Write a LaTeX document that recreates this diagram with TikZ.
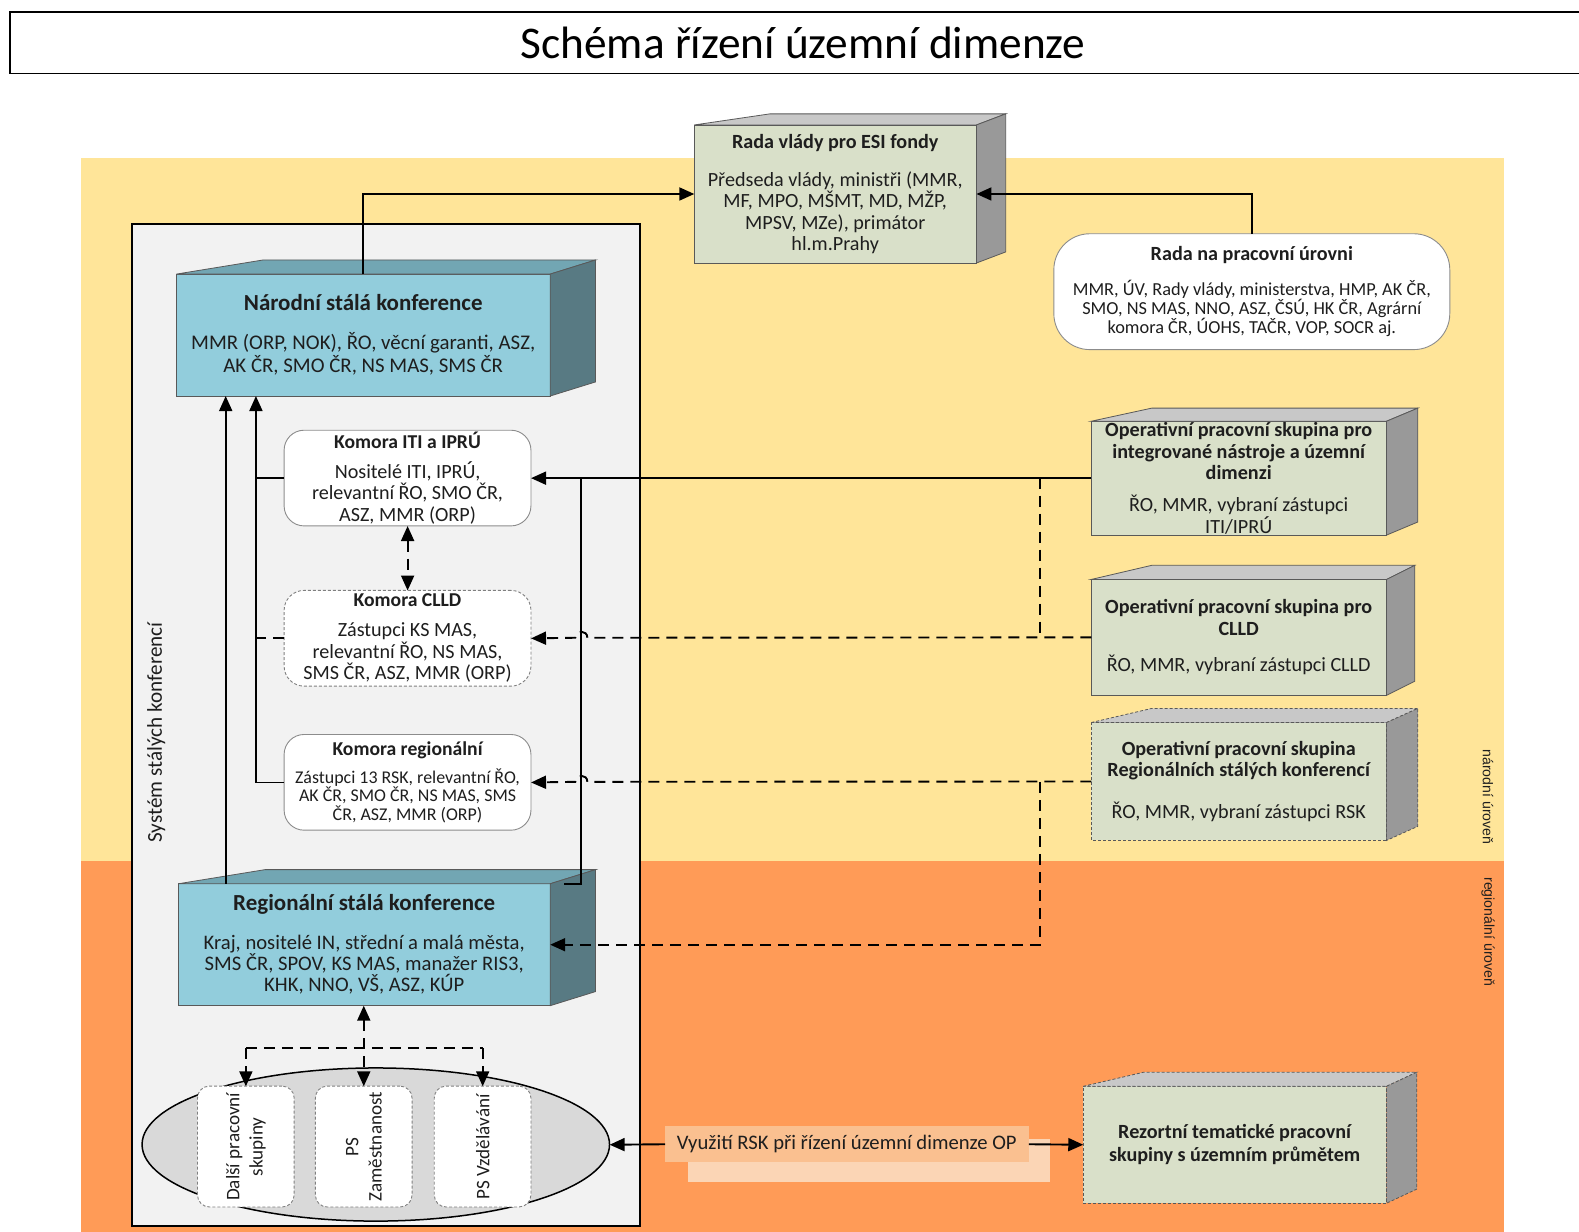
\documentclass[tikz,border=0pt]{standalone}
\usepackage{fontspec}
\setmainfont{Carlito}
\newfontfamily\arialf{Liberation Sans}
\usetikzlibrary{arrows.meta,calc,shapes.geometric}
\definecolor{bandY}{HTML}{FFE599}
\definecolor{bandO}{HTML}{FF9B57}
\definecolor{sysgrey}{HTML}{F2F2F2}
\definecolor{tealF}{HTML}{92CDDC}
\definecolor{tealT}{HTML}{72A6B3}
\definecolor{tealS}{HTML}{587A83}
\definecolor{oliveF}{HTML}{D9E0C9}
\definecolor{greyT}{HTML}{C8C8C8}
\definecolor{greyS}{HTML}{999999}
\definecolor{labF}{HTML}{FAC090}
\definecolor{labS}{HTML}{FBD5B5}
\definecolor{ellF}{HTML}{D9D9D9}
\definecolor{txt}{HTML}{1E1E1E}
\newcommand\mycube[7]{%
  \draw[cubeedge,#7,fill=#5] (#1.north west) -- ++(#2,-#4) -- ($(#1.north east)+(#3,-#4)$) -- (#1.north east) -- cycle;
  \draw[cubeedge,#7,fill=#6] (#1.north east) -- ($(#1.north east)+(#3,-#4)$) -- ($(#1.south east)+(#3,-#4)$) -- (#1.south east) -- cycle;
}
\begin{document}
\begin{tikzpicture}[x=1pt,y=-1pt, scale=1.0075, transform shape,
  every node/.style={inner sep=0pt, outer sep=0pt, text=txt},
  cubeedge/.style={draw=black!65, line width=0.8pt},
  cubefront/.style={cubeedge, anchor=north west, align=center},
  rbox/.style={draw=black!45, line width=0.9pt, fill=white, rounded corners=20pt, anchor=north west, align=center},
  fdash/.style={dash pattern=on 3pt off 2pt},
  bodytxt/.style={font=\fontsize{20}{21.5}\selectfont},
  arr/.style={line width=1.9pt, -{Triangle[length=15pt,width=13pt]}},
  darr/.style={arr, dash pattern=on 11pt off 7pt},
  ln/.style={line width=1.9pt},
  dln/.style={ln, dash pattern=on 11pt off 7pt},
  smallbox/.style={draw=black!50, line width=0.9pt, fdash, fill=white, rounded corners=12pt, minimum width=96pt, minimum height=120pt},
]
\useasboundingbox (0,0) rectangle (1567.25,1222.8);
\fill[white] (0,0) rectangle (1567.25,1222.8);
\clip (0,0) rectangle (1567.25,1222.8);

% title
\draw[line width=1.8pt] (10,12) rectangle (1620,73);
\node[font=\fontsize{45}{50}\selectfont, text=black] (title) at (797,43) {Schéma řízení územní dimenze};

% bands
\fill[bandY] (80,157) rectangle (1493,855);
\fill[bandO] (80,855) rectangle (1493,1232);
\node[font=\arialf\fontsize{14}{16}\selectfont, rotate=-90] (nu) at (1477,791) {národní úroveň};
\node[font=\arialf\fontsize{14}{16}\selectfont, rotate=-90] (ru) at (1477,925) {regionální úroveň};

% system box
\node[draw=black, line width=2pt, fill=sysgrey, minimum width=504pt, minimum height=995pt, anchor=north west] (sys) at (131,222) {};
\node[font=\fontsize{21}{23}\selectfont, rotate=90] (systxt) at (155,727) {Systém stálých konferencí};

% Rada vlady
\node[cubefront, fill=oliveF, minimum width=280pt, minimum height=137pt, font=\fontsize{20}{21}\selectfont] (rv) at (689,124)
  {{\fontsize{20}{21}\selectfont\bfseries Rada vlády pro ESI fondy}\\[17pt]
   Předseda vlády, ministři (MMR,\\ MF, MPO, MŠMT, MD, MŽP,\\ MPSV, MZe), primátor\\ hl.m.Prahy};
\mycube{rv}{75}{29}{11}{greyT}{greyS}{}

% Rada na pracovni urovni
\node[rbox, rounded corners=36pt, minimum width=393pt, minimum height=115pt, font=\fontsize{18.2}{19}\selectfont] (rpu) at (1046,232)
  {{\fontsize{20}{19}\selectfont\bfseries Rada na pracovní úrovni}\\[16pt]
   MMR, ÚV, Rady vlády, ministerstva, HMP, AK ČR,\\ SMO, NS MAS, NNO, ASZ, ČSÚ, HK ČR, Agrární\\ komora ČR, ÚOHS, TAČR, VOP, SOCR aj.};

% Narodni stala konference
\node[cubefront, fill=tealF, minimum width=371pt, minimum height=121pt, font=\fontsize{20.7}{23}\selectfont] (nsk) at (175,272)
  {{\fontsize{22.8}{23}\selectfont\bfseries Národní stálá konference}\\[16pt]
   MMR (ORP, NOK), ŘO, věcní garanti, ASZ,\\ AK ČR, SMO ČR, NS MAS, SMS ČR};
\mycube{nsk}{86}{45}{14}{tealT}{tealS}{}

% Komory
\node[rbox, minimum width=245pt, minimum height=95pt, bodytxt] (iti) at (282,427)
  {{\fontsize{19.5}{21.5}\selectfont\bfseries Komora ITI a IPRÚ}\\[8pt]
   Nositelé ITI, IPRÚ,\\ relevantní ŘO, SMO ČR,\\ ASZ, MMR (ORP)};
\node[rbox, fdash, draw=black!50, minimum width=245pt, minimum height=95pt, bodytxt] (clld) at (282,586)
  {{\fontsize{19.5}{21.5}\selectfont\bfseries Komora CLLD}\\[8pt]
   Zástupci KS MAS,\\ relevantní ŘO, NS MAS,\\ SMS ČR, ASZ, MMR (ORP)};
\node[rbox, minimum width=245pt, minimum height=95pt, font=\fontsize{17.8}{18.5}\selectfont] (reg) at (282,729)
  {{\fontsize{19.5}{18.5}\selectfont\bfseries Komora regionální}\\[9pt]
   Zástupci 13 RSK, relevantní ŘO,\\ AK ČR, SMO ČR, NS MAS, SMS\\ ČR, ASZ, MMR (ORP)};

% Operativni skupiny
\node[cubefront, fill=oliveF, minimum width=293pt, minimum height=113pt, bodytxt] (opi) at (1083,418)
  {\bfseries Operativní pracovní skupina pro\\ \bfseries integrované nástroje a územní\\ \bfseries dimenzi\\[10pt]
   \mdseries ŘO, MMR, vybraní zástupci\\ \mdseries ITI/IPRÚ};
\mycube{opi}{60}{31}{13}{greyT}{greyS}{}
\node[cubefront, fill=oliveF, minimum width=293pt, minimum height=115pt, bodytxt] (opc) at (1083,575)
  {\bfseries Operativní pracovní skupina pro\\ \bfseries CLLD\\[15pt]
   \mdseries ŘO, MMR, vybraní zástupci CLLD};
\mycube{opc}{60}{28}{14}{greyT}{greyS}{}
\node[cubefront, fdash, fill=oliveF, minimum width=293pt, minimum height=117pt, bodytxt] (ops) at (1083,717)
  {\bfseries Operativní pracovní skupina\\ \bfseries Regionálních stálých konferencí\\[20pt]
   \mdseries ŘO, MMR, vybraní zástupci RSK};
\mycube{ops}{60}{31}{14}{greyT}{greyS}{fdash}

% Regionalni stala konference
\node[cubefront, fill=tealF, minimum width=369pt, minimum height=121pt, font=\fontsize{20.5}{21}\selectfont] (rsk) at (177,877)
  {{\fontsize{22.8}{21}\selectfont\bfseries Regionální stálá konference}\\[17pt]
   Kraj, nositelé IN, střední a malá města,\\ SMS ČR, SPOV, KS MAS, manažer RIS3,\\ KHK, NNO, VŠ, ASZ, KÚP};
\mycube{rsk}{86}{45}{14}{tealT}{tealS}{}

% ellipse and working groups
\node[ellipse, draw=black, line width=1.5pt, fill=ellF, minimum width=464pt, minimum height=152pt] (ell) at (373,1136) {};
\node[smallbox] (dal) at (244,1138) {};
\node[smallbox] (zam) at (361,1138) {};
\node[smallbox] (vzd) at (479,1138) {};
\node[rotate=90, align=center, font=\fontsize{19}{23}\selectfont] at (dal) {Další pracovní\\ skupiny};
\node[rotate=90, align=center, font=\fontsize{19}{23}\selectfont] at (zam) {PS\\ Zaměstnanost};
\node[rotate=90, align=center, font=\fontsize{19}{23}\selectfont] at (vzd) {PS Vzdělávání};

% label and Rezortni
\fill[labS] (683,1131) rectangle (1042,1173);
\node[fill=labF, minimum width=361pt, minimum height=35pt, anchor=north west, font=\fontsize{20.5}{22}\selectfont] (lab) at (660,1118) {Využití RSK při řízení územní dimenze OP};
\node[cubefront, fdash, fill=oliveF, minimum width=301pt, minimum height=116pt, font=\fontsize{20}{22}\selectfont] (rez) at (1075,1078)
  {\bfseries Rezortní tematické pracovní\\ \bfseries skupiny s územním průmětem};
\mycube{rez}{60}{30}{14}{greyT}{greyS}{fdash}

% connectors top
\draw[arr] (nsk.north) |- (rv.west);
\draw[arr] (rpu.north) |- (rv.east);

% left vertical lines
\draw[arr] ([xshift=47pt]rsk.north west) -- ([xshift=47pt]rsk.north west |- nsk.south);
\draw[arr] (reg.west) -| ([xshift=79pt]nsk.south west);
\draw[ln] (iti.west) -- ++(-28,0);
\draw[dln] (clld.west) -- ++(-28,0);

% ITI line and right vertical
\draw[arr] (opi.west) -- (iti.east);
\coordinate (jtop) at (577,474);
\coordinate (jend) at (560,877);
\draw[ln] (jtop) |- (jend);

% CLLD dashed with hop
\draw[darr] (opc.west) -- (583,633) .. controls (583,625) and (571,625) .. (571,633) -- (clld.east);
\coordinate (dtop) at (1032,474);
\coordinate (dmid) at (1032,633);
\draw[dln] (dtop) -- (dmid);

% Regional dashed with hop
\draw[darr] (ops.west) -- (583,776) .. controls (583,768) and (571,768) .. (571,776) -- (reg.east);
\coordinate (rtop) at (1032,776);
\draw[darr] (rtop) |- (rsk.east);

% ITI <-> CLLD
\draw[darr, {Triangle[length=15pt,width=13pt]}-{Triangle[length=15pt,width=13pt]}] (iti.south) -- (clld.north);

% bottom
\draw[darr, {Triangle[length=15pt,width=13pt]}-{Triangle[length=15pt,width=13pt]}] (zam.north |- rsk.south) -- (zam.north);
\coordinate (hb) at (361,1040);
\draw[dln] (hb -| dal.north) -- (hb -| vzd.north);
\draw[darr] (hb -| dal.north) -- (dal.north);
\draw[darr] (hb -| vzd.north) -- (vzd.north);

\draw[arr] (lab.west) -- (ell.east);
\draw[arr] (lab.east) -- (rez.west);
\end{tikzpicture}
\end{document}
